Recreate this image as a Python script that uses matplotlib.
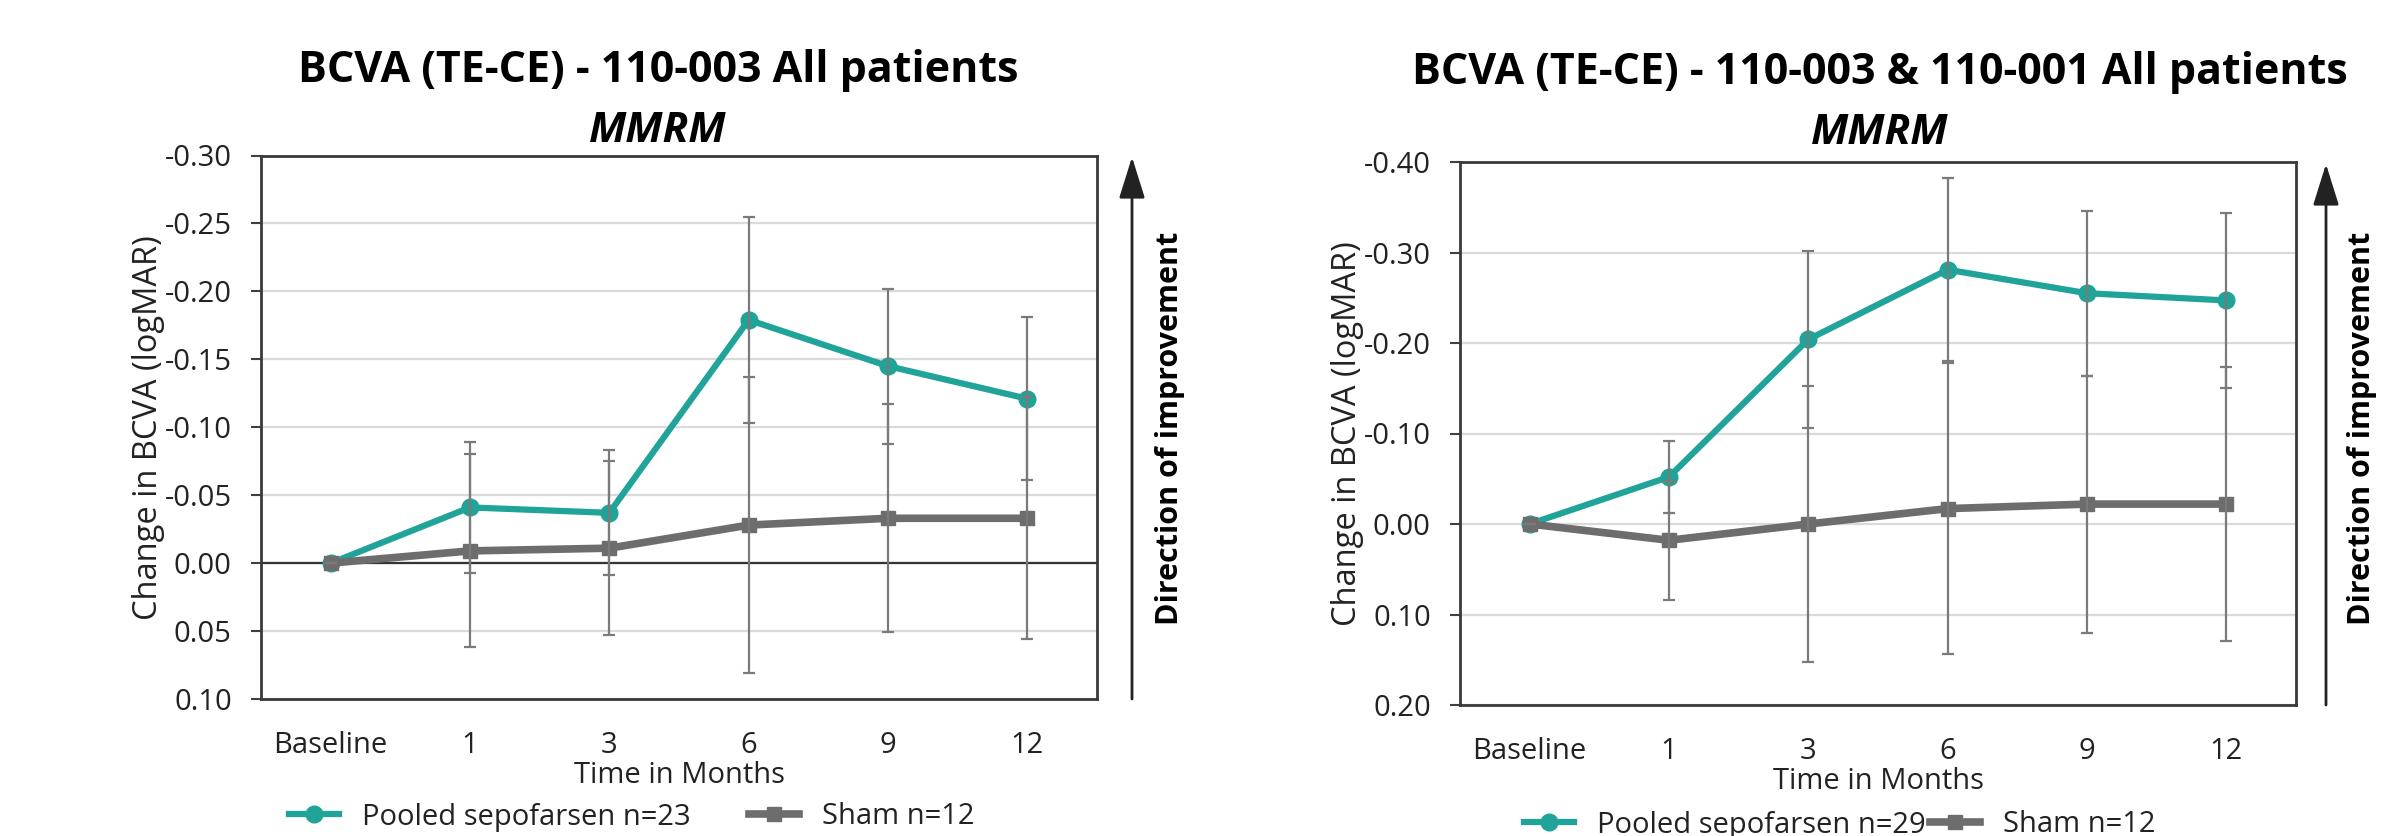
import matplotlib
matplotlib.use("Agg")
import matplotlib.pyplot as plt

plt.rcParams['font.family'] = ['Open Sans', 'DejaVu Sans']

# data
months = ['Baseline', '1', '3', '6', '9', '12']

pooled_003 = [0.0, -0.041, -0.037, -0.179, -0.145, -0.121]
pooled_003_err = [0.0, 0.048, 0.046, 0.076, 0.057, 0.060]
sham_003 = [0.0, -0.009, -0.011, -0.028, -0.033, -0.033]
sham_003_err = [0.0, 0.071, 0.064, 0.109, 0.084, 0.089]

pooled_all = [0.0, -0.052, -0.204, -0.281, -0.255, -0.247]
pooled_all_err = [0.0, 0.040, 0.098, 0.101, 0.091, 0.097]
sham_all = [0.0, 0.018, 0.0, -0.017, -0.022, -0.022]
sham_all_err = [0.0, 0.066, 0.152, 0.161, 0.142, 0.151]

yticks_003 = [-0.30, -0.25, -0.20, -0.15, -0.10, -0.05, 0.00, 0.05, 0.10]
yticks_all = [-0.40, -0.30, -0.20, -0.10, 0.00, 0.10, 0.20]

TEAL = '#20a398'
GRAY = '#6d6d6d'
ERR = '#7a7a7a'
FS = 21

W, H = 2389, 836
fig = plt.figure(figsize=(W / 100, H / 100), dpi=100)


def panel(rect, pooled, perr, sham, serr, yticks, n_pooled, title, title_x,
          title_y, zero_line, leg_x, leg_y, colspace):
    ax = fig.add_axes(rect)
    x = list(range(len(months)))

    ax.errorbar(x, sham, yerr=serr, fmt='none', ecolor=ERR, elinewidth=1.6,
                capsize=4.3, capthick=1.6, zorder=5)
    ax.errorbar(x, pooled, yerr=perr, fmt='none', ecolor=ERR, elinewidth=1.6,
                capsize=4.3, capthick=1.6, zorder=5)
    ax.plot(x, pooled, color=TEAL, lw=4.5, marker='o', ms=12, zorder=3,
            label=f'Pooled sepofarsen n={n_pooled}')
    ax.plot(x, sham, color=GRAY, lw=5.5, marker='s', ms=10.5, zorder=4,
            label='Sham n=12')

    ax.set_xlim(-0.5, len(months) - 0.5)
    ax.set_ylim(yticks[-1], yticks[0])
    ax.set_yticks(yticks)
    ax.set_yticklabels([f'{v:.2f}' if abs(v) > 1e-9 else '0.00' for v in yticks])
    ax.set_xticks(x)
    ax.set_xticklabels(months)
    ax.tick_params(axis='y', length=7, width=1.5, color='#404040', pad=14,
                   labelsize=FS, labelcolor='#222222')
    ax.tick_params(axis='x', length=0, pad=23, labelsize=FS, labelcolor='#222222')
    ax.grid(axis='y', color='#dadada', lw=1.6, zorder=0)
    ax.set_axisbelow(True)
    if zero_line:
        ax.axhline(0, color='#333333', lw=1.6, zorder=1)
    for s in ax.spines.values():
        s.set_color('#3a3a3a')
        s.set_linewidth(2)

    ax.set_xlabel('Time in Months', fontsize=FS, labelpad=1, color='#222222')
    ax.set_ylabel('Change in BCVA (logMAR)', fontsize=23.5, labelpad=0,
                  color='#222222')

    fig.text(title_x / W, 1 - title_y / H, title, fontsize=31, fontweight='bold',
             ha='center', va='center')
    fig.text(title_x / W, 1 - (title_y + 61) / H, 'MMRM', fontsize=30.5,
             fontweight='bold', style='italic', ha='center', va='center')

    fig.legend(*ax.get_legend_handles_labels(), loc='center',
               bbox_to_anchor=(leg_x / W, 1 - leg_y / H), ncol=2, frameon=False,
               fontsize=FS, handlelength=1.7, handletextpad=0.8,
               columnspacing=colspace, labelcolor='#222222')
    return ax


ax1 = panel([261 / W, 1 - 699 / H, 836 / W, 543.5 / H], pooled_003,
            pooled_003_err, sham_003, sham_003_err, yticks_003, 23,
            'BCVA (TE-CE) - 110-003 All patients', 658, 70, True, 632, 817, 2.0)
ax2 = panel([1460 / W, 1 - 705 / H, 836 / W, 543 / H], pooled_all,
            pooled_all_err, sham_all, sham_all_err, yticks_all, 29,
            'BCVA (TE-CE) - 110-003 & 110-001 All patients', 1880, 72, False,
            1840, 825, 0.15)

# direction of improvement arrows
for ax_x, top, bot, tx in [(1132, 157, 699, 1170), (2326, 164, 705, 2362)]:
    fig.add_artist(matplotlib.patches.FancyArrowPatch(
        (ax_x / W, 1 - bot / H), (ax_x / W, 1 - top / H),
        transform=fig.transFigure, arrowstyle='-|>,head_length=1.6,head_width=0.5',
        mutation_scale=16, lw=2, color='#222222', shrinkA=0, shrinkB=0))
    fig.text(tx / W, 1 - 428 / H, 'Direction of improvement', rotation=90,
             fontsize=22, fontweight='bold', ha='center', va='center')

fig.savefig('out.png', dpi=100)
